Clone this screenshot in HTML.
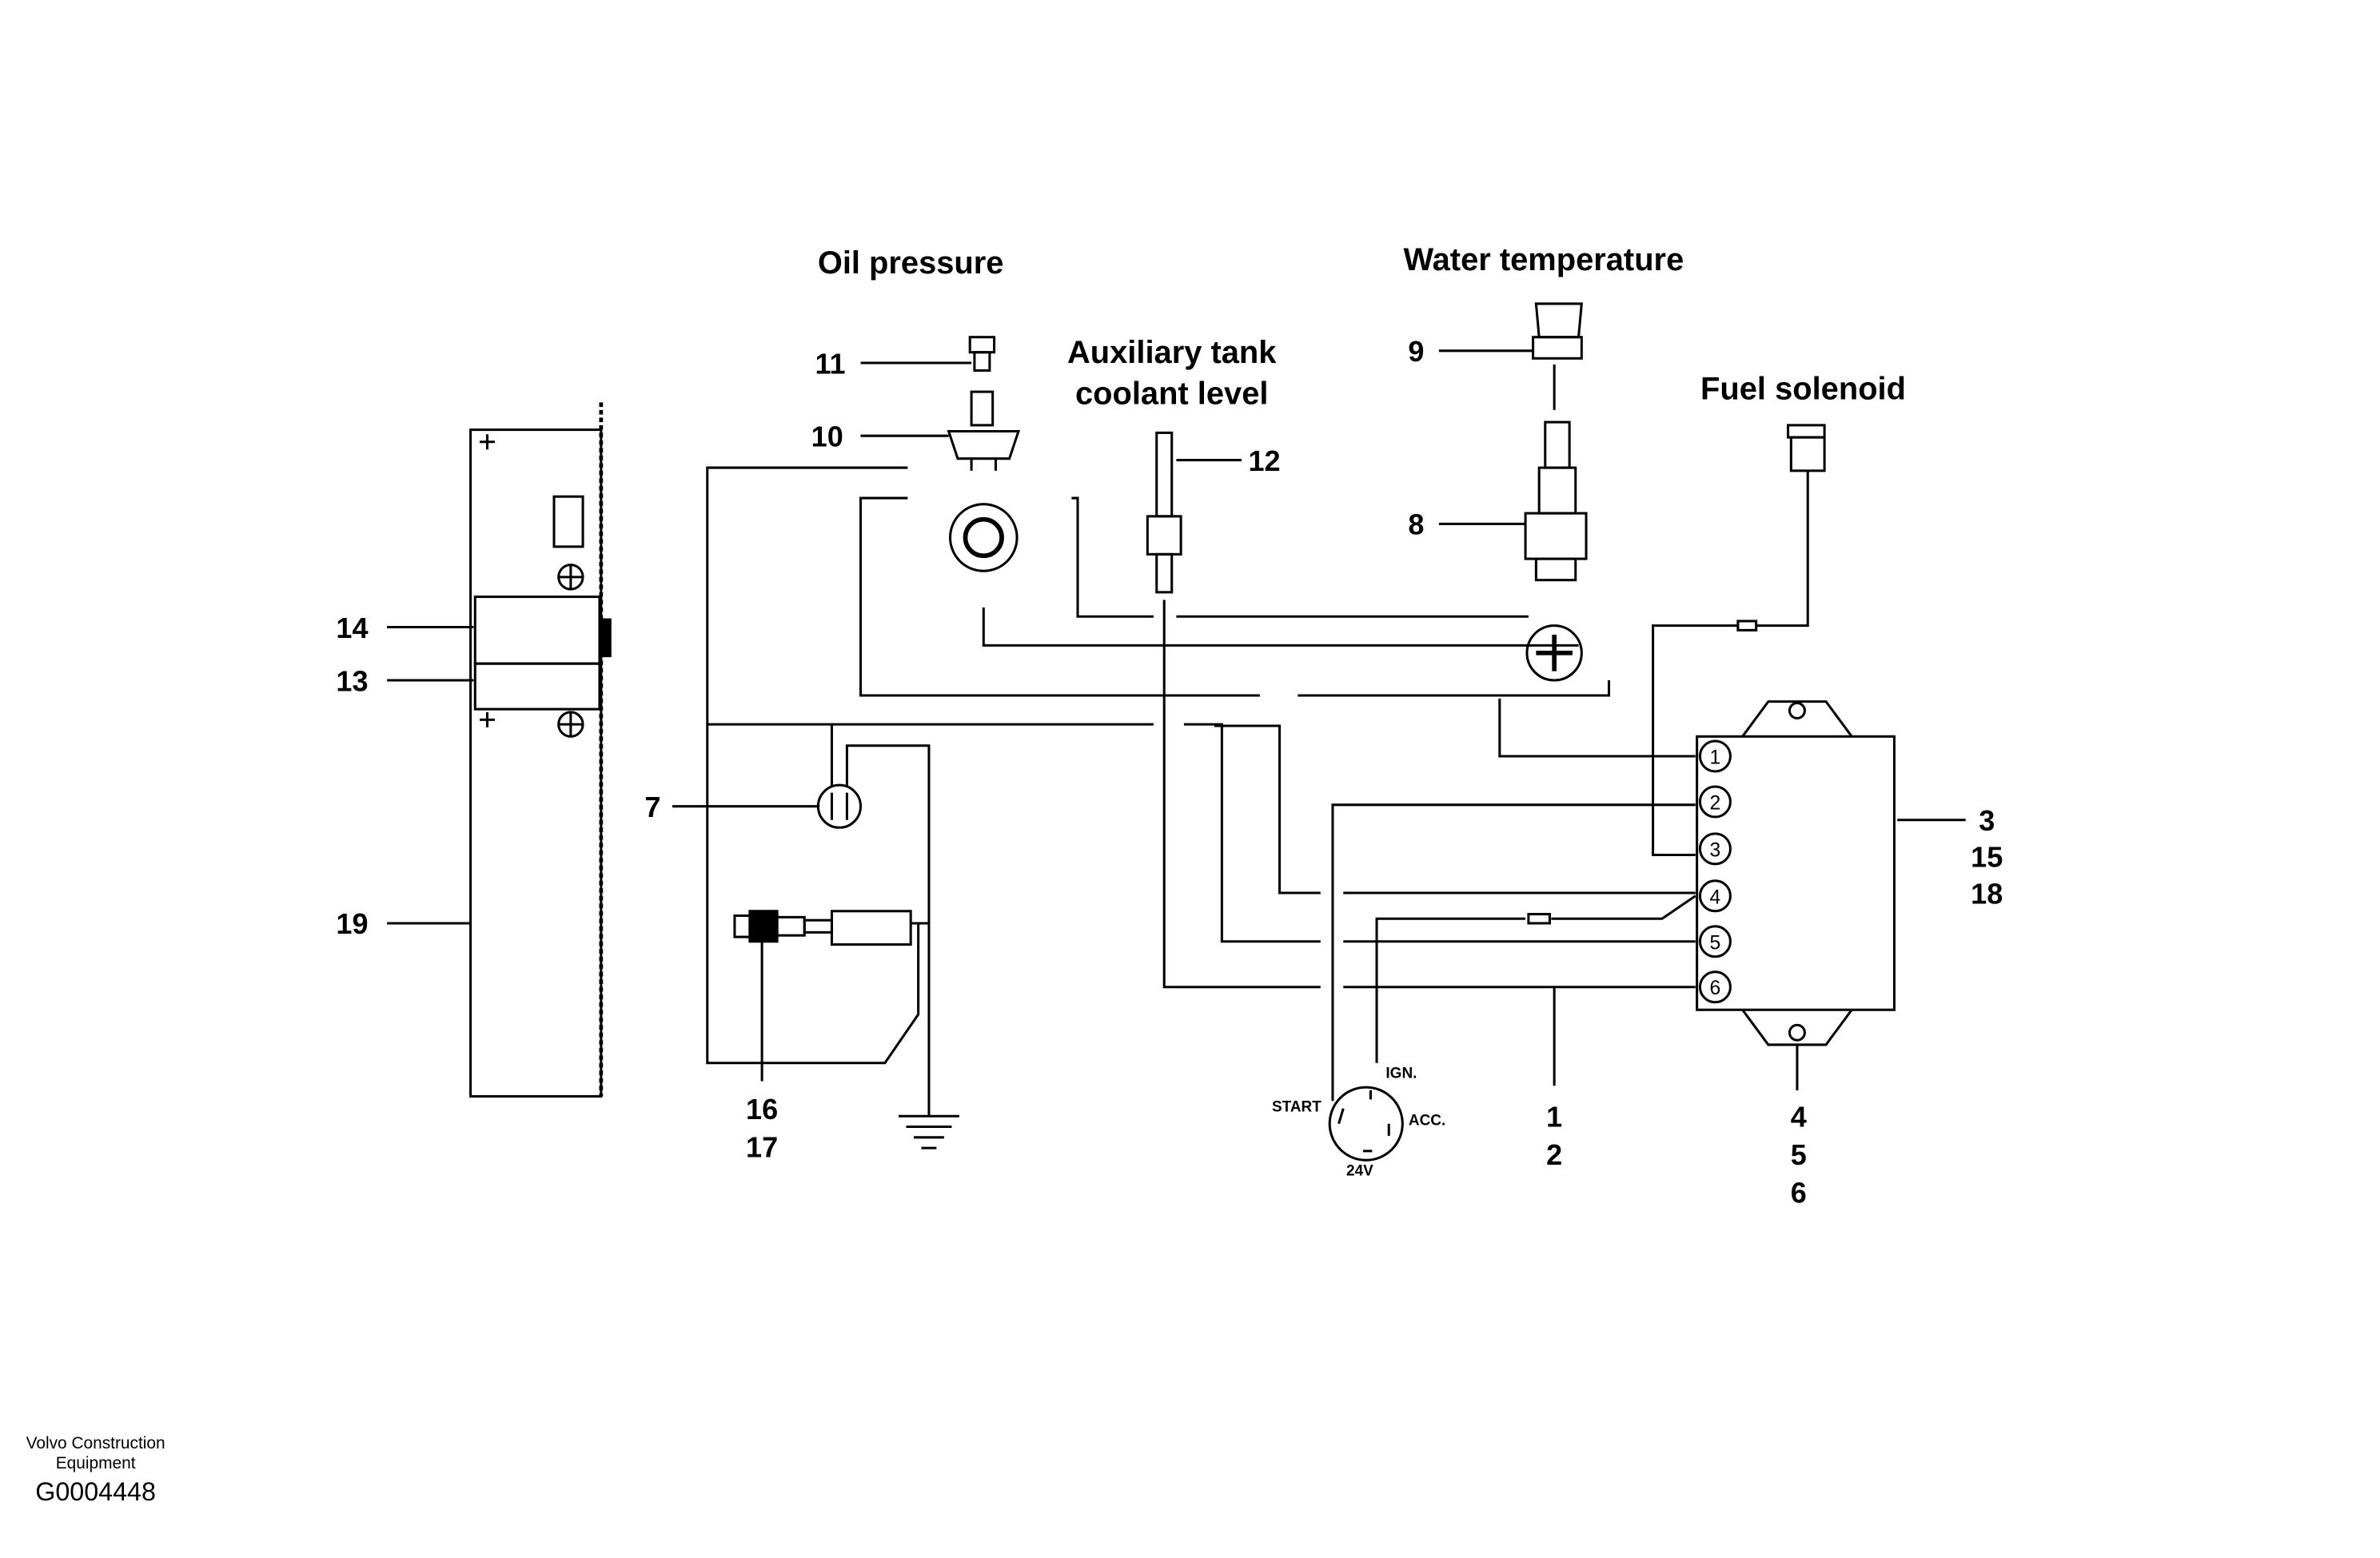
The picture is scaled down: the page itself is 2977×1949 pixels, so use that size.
<!DOCTYPE html>
<html><head><style>html,body{margin:0;padding:0;background:#fff}svg{display:block}</style></head><body>
<svg width="2977" height="1949" viewBox="0 0 1568 1026" preserveAspectRatio="none" xmlns="http://www.w3.org/2000/svg" font-family="Liberation Sans, sans-serif">
<g fill="none" stroke="#000" stroke-width="1.6">
<rect x="310" y="283" width="86" height="439"/>
<line x1="396" y1="265" x2="396" y2="722" stroke-dasharray="3,2" stroke-width="2.5"/>
<rect x="313" y="393" width="82" height="44"/>
<rect x="313" y="437" width="82" height="30"/>
<rect x="365" y="327" width="19" height="33"/>
<circle cx="376" cy="380" r="8"/><path d="M368 380h16M376 372v16"/>
<circle cx="376" cy="477" r="8"/><path d="M368 477h16M376 469v16"/>
<path d="M316 291h10M321 286v10M316 474h10M321 469v10"/>
<rect x="396" y="408" width="6" height="24" fill="#000"/>
<path d="M255 413h57M255 448h57M255 608h55M443 531h97M567 239h73M567 287h58M775 303h43M948 231h62M948 345h57M1250 540h45"/>
<path d="M598 308H466V700H583L605 668V608"/>
<path d="M466 477H760M780 477H805V620H870M885 620H1117"/>
<path d="M598 328H567V458H830M855 458H1060V448"/>
<path d="M706 328H710V406H760M775 406H1007"/>
<path d="M648 400V425H1040"/>
<path d="M1191 310V412H1157M1145 412H1089V563H1117"/>
<path d="M548 477V518M558 518V491H612V735"/>
<path d="M767 395V650H870M885 650H1117"/>
<path d="M800 478H843V588H870M885 588H1117"/>
<path d="M988 460V498H1117"/>
<path d="M878 725V530H1117"/>
<path d="M907 700V605H1005M1022 605H1095L1117 590"/>
<path d="M1024 650V715"/>
<rect x="1145" y="409" width="12" height="6"/><rect x="1007" y="602" width="14" height="6"/>
<circle cx="553" cy="531" r="14"/><path d="M548 522v18M558 522v18"/>
<rect x="484" y="603" width="10" height="14"/><rect x="494" y="600" width="18" height="20" fill="#000"/>
<rect x="512" y="604" width="18" height="12"/><rect x="530" y="606" width="18" height="8"/>
<rect x="548" y="600" width="52" height="22"/><path d="M600 608h12M502 620v92"/>
<path d="M592 735h40M597 742h30M602 749h20M607 756h10"/>
<rect x="639" y="222" width="16" height="10"/><rect x="642" y="232" width="10" height="12"/>
<rect x="640" y="258" width="14" height="22"/><path d="M625 284h46l-6 18h-34z"/>
<path d="M640 302v8M656 302v8"/>
<circle cx="648" cy="354" r="22"/><circle cx="648" cy="354" r="12" stroke-width="3"/>
<rect x="762" y="285" width="10" height="55"/><rect x="756" y="340" width="22" height="25"/><rect x="762" y="365" width="10" height="25"/>
<path d="M1012 200h30l-2 22h-26z"/><rect x="1010" y="222" width="32" height="14"/>
<path d="M1024 240v30"/>
<rect x="1018" y="278" width="16" height="30"/><rect x="1014" y="308" width="24" height="30"/>
<rect x="1005" y="338" width="40" height="30"/><rect x="1012" y="368" width="26" height="14"/>
<circle cx="1024" cy="430" r="18"/><path d="M1012 430h24M1024 418v24" stroke-width="3"/>
<rect x="1178" y="280" width="24" height="8"/><rect x="1180" y="288" width="22" height="22"/>
<rect x="1118" y="485" width="130" height="180"/>
<path d="M1148 485L1165 462H1203L1220 485M1148 665L1165 688H1203L1220 665"/>
<circle cx="1184" cy="468" r="5"/><circle cx="1184" cy="680" r="5"/>
<path d="M1184 688v30"/>
<circle cx="1130" cy="498" r="10"/><circle cx="1130" cy="528" r="10"/><circle cx="1130" cy="559" r="10"/>
<circle cx="1130" cy="590" r="10"/><circle cx="1130" cy="620" r="10"/><circle cx="1130" cy="650" r="10"/>
<circle cx="900" cy="740" r="24"/>
<path d="M885 730l-3 10M903 718v6M915 740v8M898 758h6"/>
</g>
<g font-weight="bold" font-size="21" text-anchor="middle" fill="#000">
<text x="600" y="180">Oil pressure</text>
<text x="1017" y="178">Water temperature</text>
<text x="772" y="239">Auxiliary tank</text>
<text x="772" y="266">coolant level</text>
<text x="1188" y="263">Fuel solenoid</text>
</g>
<g font-weight="bold" font-size="19" text-anchor="middle" fill="#000">
<text x="547" y="246">11</text><text x="545" y="294">10</text><text x="833" y="310">12</text>
<text x="933" y="238">9</text><text x="933" y="352">8</text>
<text x="232" y="420">14</text><text x="232" y="455">13</text><text x="430" y="538">7</text><text x="232" y="615">19</text>
<text x="502" y="737">16</text><text x="502" y="762">17</text>
<text x="1024" y="742">1</text><text x="1024" y="767">2</text>
<text x="1185" y="742">4</text><text x="1185" y="767">5</text><text x="1185" y="792">6</text>
<text x="1309" y="547">3</text><text x="1309" y="571">15</text><text x="1309" y="595">18</text>
</g>
<g font-size="13" text-anchor="middle" fill="#000">
<text x="1130" y="503">1</text><text x="1130" y="533">2</text><text x="1130" y="564">3</text>
<text x="1130" y="595">4</text><text x="1130" y="625">5</text><text x="1130" y="655">6</text>
</g>
<g font-weight="bold" font-size="10" fill="#000">
<text x="838" y="732">START</text><text x="913" y="710">IGN.</text><text x="928" y="741">ACC.</text><text x="887" y="774">24V</text>
</g>
<g text-anchor="middle" fill="#000">
<text x="63" y="954" font-size="11">Volvo Construction</text>
<text x="63" y="967" font-size="11">Equipment</text>
<text x="63" y="988" font-size="17">G0004448</text>
</g>
</svg>
</body></html>
